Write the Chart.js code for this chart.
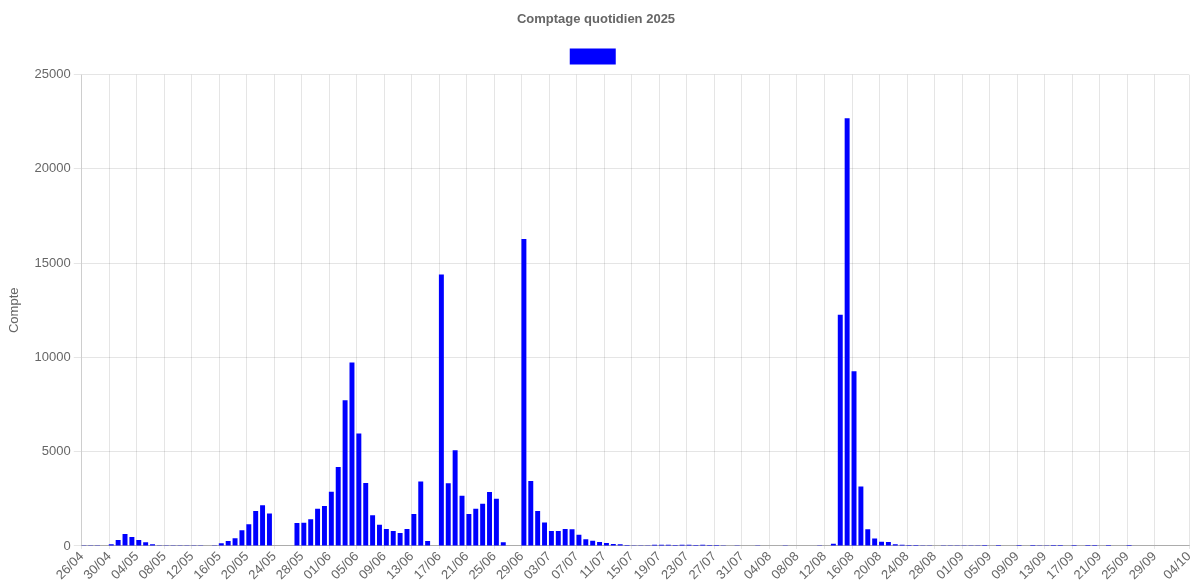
<!DOCTYPE html>
<html>
<head>
<meta charset="utf-8">
<script src="https://cdn.jsdelivr.net/npm/chart.js@4/dist/chart.umd.min.js"></script>
<style>
html,body{margin:0;padding:0;background:#fff;}
#wrap{width:1192px;height:583px;position:relative;}
</style>
</head>
<body>
<div id="wrap"><canvas id="c"></canvas></div>
<script>
// ---- Data ----
const dates = [
  '26/04','27/04','28/04','29/04','30/04',
  '01/05','02/05','03/05','04/05','05/05','06/05','07/05','08/05','09/05','10/05',
  '11/05','12/05','13/05','14/05','15/05','16/05','17/05','18/05','19/05','20/05',
  '21/05','22/05','23/05','24/05','25/05','26/05','27/05','28/05','29/05','30/05','31/05',
  '01/06','02/06','03/06','04/06','05/06','06/06','07/06','08/06','09/06','10/06',
  '11/06','12/06','13/06','14/06','15/06','16/06','17/06','18/06','19/06','20/06',
  '21/06','22/06','23/06','24/06','25/06','26/06','27/06','28/06','29/06','30/06',
  '01/07','02/07','03/07','04/07','05/07','06/07','07/07','08/07','09/07','10/07',
  '11/07','12/07','13/07','14/07','15/07','16/07','17/07','18/07','19/07','20/07',
  '21/07','22/07','23/07','24/07','25/07','26/07','27/07','28/07','29/07','30/07','31/07',
  '01/08','02/08','03/08','04/08','05/08','06/08','07/08','08/08','09/08','10/08',
  '11/08','12/08','13/08','14/08','15/08','16/08','17/08','18/08','19/08','20/08',
  '21/08','22/08','23/08','24/08','25/08','26/08','27/08','28/08','29/08','30/08','31/08',
  '01/09','02/09','03/09','04/09','05/09','06/09','07/09','08/09','09/09','10/09',
  '11/09','12/09','13/09','14/09','15/09','16/09','17/09','18/09','19/09','20/09',
  '21/09','22/09','23/09','24/09','25/09','26/09','27/09','28/09','29/09','30/09',
  '01/10','02/10','03/10','04/10'
];

const countsApr = [10, 5, 10, 20, 90];
const countsMay = [320, 630, 470, 320, 200, 90, 35, 15, 10, 5,
                   5, 10, 15, 20, 40, 140, 265, 410, 830, 1150,
                   1860, 2160, 1720, 0, 0, 0, 1220, 1235, 1415, 1980, 2120];
const countsJun = [2870, 4190, 7730, 9730, 5960, 3340, 1630, 1130, 900, 790,
                   690, 900, 1690, 3420, 270, 0, 14400, 3330, 5080, 2660,
                   1690, 1980, 2240, 2860, 2510, 200, 0, 0, 16280, 3440];
const countsJul = [1860, 1240, 790, 790, 900, 880, 590, 360, 275, 210,
                   160, 105, 85, 55, 35, 35, 40, 65, 70, 70,
                   55, 70, 70, 55, 60, 50, 45, 15, 20, 15, 20];
const countsAug = [20, 15, 20, 25, 20, 15, 20, 25, 20, 30,
                   35, 30, 120, 12260, 22680, 9270, 3150, 885, 390, 230,
                   210, 90, 70, 55, 50, 35, 35, 20, 10, 10, 5];
const countsSep = [15, 10, 5, 3, 0, 2, 0, 0, 3, 0,
                   2, 5, 8, 4, 2, 0, 3, 0, 2, 3,
                   0, 2, 0, 0, 2, 0, 0, 0, 0, 0];
const countsOct = [0, 0, 0, 0];

const counts = [].concat(countsApr, countsMay, countsJun, countsJul, countsAug, countsSep, countsOct);

const tickLabels = ['26/04','30/04','04/05','08/05','12/05','16/05','20/05','24/05','28/05',
  '01/06','05/06','09/06','13/06','17/06','21/06','25/06','29/06','03/07','07/07','11/07',
  '15/07','19/07','23/07','27/07','31/07','04/08','08/08','12/08','16/08','20/08','24/08',
  '28/08','01/09','05/09','09/09','13/09','17/09','21/09','25/09','29/09','04/10'];

const yTickValues = [0, 5000, 10000, 15000, 20000, 25000];

// time of day of each daily sample (hours), as a fraction of a day on the axis
const SAMPLE_HOUR = 7;

// ---- Chart ----
Chart.defaults.font.family = "'Liberation Sans', Arial, Helvetica, sans-serif";
Chart.defaults.font.size = 13;
Chart.defaults.color = '#666';

new Chart(document.getElementById('c'), {
  type: 'bar',
  data: {
    datasets: [{
      label: '',
      data: counts.map((v, i) => ({ x: i + SAMPLE_HOUR / 24, y: v })),
      backgroundColor: '#0000ff',
      borderWidth: 0
    }]
  },
  options: {
    responsive: true,
    maintainAspectRatio: false,
    animation: false,
    layout: { padding: 0 },
    plugins: {
      title: {
        display: true,
        text: 'Comptage quotidien 2025',
        color: '#666',
        font: { size: 13, weight: 'bold' },
        padding: { top: 12, bottom: 11 }
      },
      legend: {
        display: true,
        labels: { boxWidth: 46, boxHeight: 16, padding: 10 }
      },
      tooltip: { enabled: false }
    },
    scales: {
      x: {
        type: 'linear',
        min: 0,
        max: dates.length - 1,
        offset: false,
        grid: { offset: false, color: 'rgba(0,0,0,0.1)', tickLength: 3, drawTicks: true },
        border: { color: 'rgba(0,0,0,0.25)' },
        afterBuildTicks: (scale) => {
          scale.ticks = tickLabels.map(l => ({ value: dates.indexOf(l) }));
        },
        afterFit: (scale) => { scale.paddingRight = 3; },
        ticks: {
          autoSkip: false,
          minRotation: 45,
          maxRotation: 45,
          padding: 0,
          color: '#666',
          callback: (v) => dates[v]
        }
      },
      y: {
        min: 0,
        max: 25000,
        afterBuildTicks: (scale) => {
          scale.ticks = yTickValues.map(v => ({ value: v }));
        },
        title: {
          display: true,
          text: 'Compte',
          color: '#666',
          padding: { top: 7, bottom: 9 }
        },
        grid: { color: 'rgba(0,0,0,0.1)', tickLength: 8 },
        border: { color: 'rgba(0,0,0,0.1)' },
        ticks: { padding: 3, color: '#666', callback: (v) => String(v) }
      }
    }
  }
});
</script>
</body>
</html>
